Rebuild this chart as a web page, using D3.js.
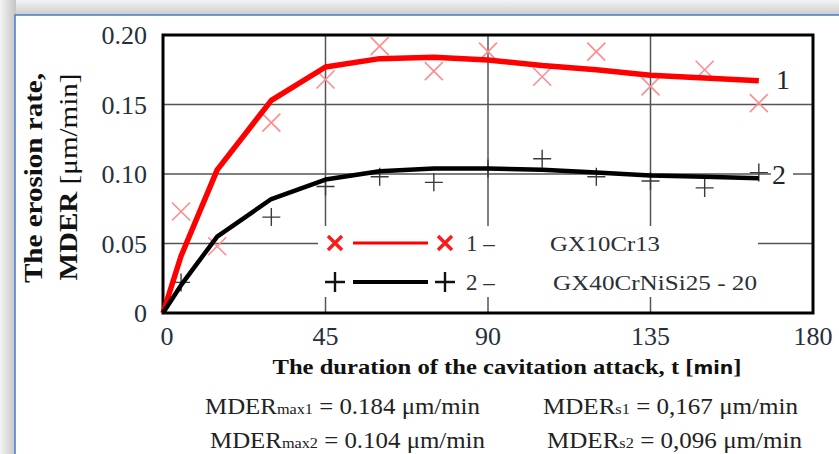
<!DOCTYPE html>
<html>
<head>
<meta charset="utf-8">
<script src="https://cdn.jsdelivr.net/npm/d3@7"></script>
<style>
  html, body { margin: 0; padding: 0; background: #fff; }
  svg { display: block; }
</style>
</head>
<body>
<svg id="chart" width="839" height="454"></svg>
<script>
// measured points, material 1 (GX10Cr13) and 2 (GX40CrNiSi25-20)
const t1 = [5, 15, 30, 45, 60, 75, 90, 105, 120, 135, 150, 165];
const mder1 = [0.073, 0.048, 0.137, 0.168, 0.192, 0.174, 0.188, 0.170, 0.188, 0.163, 0.175, 0.151];
const t2 = [5, 30, 45, 60, 75, 90, 105, 120, 135, 150, 165];
const mder2 = [0.022, 0.069, 0.091, 0.098, 0.094, 0.104, 0.111, 0.098, 0.095, 0.090, 0.101];

// fitted curves
const tFit = [0, 5, 15, 30, 45, 60, 75, 90, 105, 120, 135, 150, 165];
const fit1 = [0, 0.041, 0.103, 0.153, 0.177, 0.183, 0.184, 0.182, 0.178, 0.175, 0.171, 0.169, 0.167];
const fit2 = [0, 0.020, 0.055, 0.082, 0.096, 0.102, 0.104, 0.104, 0.103, 0.101, 0.099, 0.098, 0.097];

const xTicks = [0, 45, 90, 135, 180];
const yTicks = [0, 0.05, 0.10, 0.15, 0.20];
const yTickLabels = ['0', '0.05', '0.10', '0.15', '0.20'];

const serif = '"Liberation Serif", "Times New Roman", serif';

const svg = d3.select('#chart');

// panel frame with shadow
const defs = svg.append('defs');
const grad = defs.append('linearGradient').attr('id', 'shadeTop').attr('x1', 0).attr('y1', 0).attr('x2', 0).attr('y2', 1);
grad.append('stop').attr('offset', '0%').attr('stop-color', '#f4f4f4');
grad.append('stop').attr('offset', '100%').attr('stop-color', '#c9c9c9');
const gradL = defs.append('linearGradient').attr('id', 'shadeLeft').attr('x1', 0).attr('y1', 0).attr('x2', 1).attr('y2', 0);
gradL.append('stop').attr('offset', '0%').attr('stop-color', '#f4f4f4');
gradL.append('stop').attr('offset', '100%').attr('stop-color', '#c4c4c4');

svg.append('rect').attr('x', 0).attr('y', 0).attr('width', 839).attr('height', 16).attr('fill', 'url(#shadeTop)');
svg.append('rect').attr('x', 0).attr('y', 0).attr('width', 16).attr('height', 454).attr('fill', 'url(#shadeLeft)');
svg.append('rect')
  .attr('x', 15).attr('y', 15).attr('width', 840).attr('height', 460)
  .attr('fill', '#fff').attr('stroke', '#4f7fcf').attr('stroke-width', 1.6);

const x = d3.scaleLinear().domain([0, 180]).range([163, 813]);
const y = d3.scaleLinear().domain([0, 0.2]).range([313, 35]);

const g = svg.append('g');

// grid
g.selectAll('.gx').data(xTicks.slice(1, -1)).join('line')
  .attr('x1', d => x(d)).attr('x2', d => x(d))
  .attr('y1', y(0.2)).attr('y2', y(0))
  .attr('stroke', '#555').attr('stroke-width', 1.5);
g.selectAll('.gy').data(yTicks.slice(1, -1)).join('line')
  .attr('x1', x(0)).attr('x2', x(180))
  .attr('y1', d => y(d)).attr('y2', d => y(d))
  .attr('stroke', '#555').attr('stroke-width', 1.5);

// plot border
g.append('rect')
  .attr('x', x(0)).attr('y', y(0.2))
  .attr('width', x(180) - x(0)).attr('height', y(0) - y(0.2))
  .attr('fill', 'none').attr('stroke', '#000').attr('stroke-width', 3);

// tick labels
g.selectAll('.yl').data(yTicks).join('text')
  .attr('x', 147).attr('y', d => y(d) + 9)
  .attr('text-anchor', 'end')
  .attr('font-family', serif).attr('font-size', 26).attr('fill', '#26303c')
  .text((d, i) => yTickLabels[i]);
g.selectAll('.xl').data(xTicks).join('text')
  .attr('x', d => x(d) + (d === 0 ? 4 : d === 180 ? 0 : 0)).attr('y', 345)
  .attr('text-anchor', 'middle')
  .attr('font-family', serif).attr('font-size', 26).attr('fill', '#26303c')
  .text(d => d);

// markers
const xMark = (sel, s) => sel.attr('d', d => {
  const cx = x(d[0]), cy = y(d[1]);
  return `M${cx - s},${cy - s}L${cx + s},${cy + s}M${cx - s},${cy + s}L${cx + s},${cy - s}`;
});
const plusMark = (sel, s) => sel.attr('d', d => {
  const cx = x(d[0]), cy = y(d[1]);
  return `M${cx - s},${cy}L${cx + s},${cy}M${cx},${cy - s}L${cx},${cy + s}`;
});

g.selectAll('.m1').data(d3.zip(t1, mder1)).join('path')
  .call(xMark, 9)
  .attr('stroke', '#ff8c8c').attr('stroke-width', 1.6).attr('fill', 'none');
g.selectAll('.m2').data(d3.zip(t2, mder2)).join('path')
  .call(plusMark, 9)
  .attr('stroke', '#3a3a3a').attr('stroke-width', 1.4).attr('fill', 'none');

// fitted lines
const line = d3.line().x(d => x(d[0])).y(d => y(d[1]));
g.append('path').datum(d3.zip(tFit, fit1)).attr('d', line)
  .attr('fill', 'none').attr('stroke', '#ff0000').attr('stroke-width', 5.5)
  .attr('stroke-linejoin', 'round');
g.append('path').datum(d3.zip(tFit, fit2)).attr('d', line)
  .attr('fill', 'none').attr('stroke', '#000').attr('stroke-width', 4.5)
  .attr('stroke-linejoin', 'round');

// curve labels
g.append('text').attr('x', 776).attr('y', 89)
  .attr('font-family', serif).attr('font-size', 28).attr('fill', '#1e2630').text('1');
g.append('rect').attr('x', 771).attr('y', 160).attr('width', 22).attr('height', 26).attr('fill', '#fff');
g.append('text').attr('x', 772).attr('y', 184)
  .attr('font-family', serif).attr('font-size', 28).attr('fill', '#1e2630').text('2');

// legend
const lg = g.append('g');
lg.append('rect').attr('x', 318).attr('y', 226).attr('width', 440).attr('height', 71).attr('fill', '#fff');
const legendRows = [
  { yv: 243, color: '#ff0000', mark: 'x', num: '1 –', name: 'GX10Cr13', nx: 550, nw: 110 },
  { yv: 282, color: '#000', mark: '+', num: '2 –', name: 'GX40CrNiSi25 - 20', nx: 553, nw: 204 }
];
legendRows.forEach(r => {
  [335, 445].forEach(cx => {
    const s = 7;
    lg.append('path')
      .attr('d', r.mark === 'x'
        ? `M${cx - s},${r.yv - s}L${cx + s},${r.yv + s}M${cx - s},${r.yv + s}L${cx + s},${r.yv - s}`
        : `M${cx - 10},${r.yv}L${cx + 10},${r.yv}M${cx},${r.yv - 10}L${cx},${r.yv + 10}`)
      .attr('stroke', r.mark === 'x' ? '#ff1a1a' : '#111')
      .attr('stroke-width', r.mark === 'x' ? 3.4 : 2.4).attr('fill', 'none');
  });
  lg.append('line').attr('x1', 353).attr('x2', 428).attr('y1', r.yv).attr('y2', r.yv)
    .attr('stroke', r.color).attr('stroke-width', r.mark === 'x' ? 3 : 4);
  lg.append('text').attr('x', 466).attr('y', r.yv + 8)
    .attr('font-family', serif).attr('font-size', 23).attr('fill', '#333').text(r.num);
  lg.append('text').attr('x', r.nx).attr('y', r.yv + 8)
    .attr('font-family', serif).attr('font-size', 21).attr('fill', '#2a2f36')
    .attr('textLength', r.nw).attr('lengthAdjust', 'spacingAndGlyphs')
    .text(r.name);
});

// axis titles
svg.append('text')
  .attr('transform', 'translate(42,178) rotate(-90)')
  .attr('text-anchor', 'middle')
  .attr('font-family', serif).attr('font-size', 26).attr('font-weight', 'bold').attr('fill', '#111')
  .attr('textLength', 210).attr('lengthAdjust', 'spacingAndGlyphs')
  .text('The erosion rate,');
const yt2 = svg.append('text')
  .attr('transform', 'translate(77,177) rotate(-90)')
  .attr('text-anchor', 'middle')
  .attr('font-family', serif).attr('font-size', 26).attr('fill', '#111')
  .attr('textLength', 207).attr('lengthAdjust', 'spacingAndGlyphs');
yt2.append('tspan').attr('font-weight', 'bold').text('MDER ');
yt2.append('tspan').text('[μm/min]');

const xt = svg.append('text')
  .attr('x', 507).attr('y', 374).attr('text-anchor', 'middle')
  .attr('font-family', serif).attr('font-size', 22).attr('font-weight', 'bold').attr('fill', '#111')
  .attr('textLength', 469).attr('lengthAdjust', 'spacingAndGlyphs');
xt.append('tspan').text('The duration of the cavitation attack, t [');
xt.append('tspan').attr('font-family', '"DejaVu Sans", sans-serif').attr('font-size', 17).text('min');
xt.append('tspan').text(']');

// summary lines
const summary = [
  { x: 205, y: 414, w: 275, base: 'MDER', sub: 'max1', rest: ' = 0.184 μm/min' },
  { x: 210, y: 448, w: 275, base: 'MDER', sub: 'max2', rest: ' = 0.104 μm/min' },
  { x: 543, y: 414, w: 255, base: 'MDER', sub: 's1', rest: ' = 0,167 μm/min' },
  { x: 547, y: 448, w: 255, base: 'MDER', sub: 's2', rest: ' = 0,096 μm/min' }
];
summary.forEach(s => {
  const tx = svg.append('text').attr('x', s.x).attr('y', s.y)
    .attr('font-family', serif).attr('font-size', 23).attr('fill', '#222')
    .attr('textLength', s.w).attr('lengthAdjust', 'spacingAndGlyphs');
  tx.append('tspan').text(s.base);
  tx.append('tspan').attr('font-size', 15).text(s.sub);
  tx.append('tspan').text(s.rest);
});
</script>
</body>
</html>
